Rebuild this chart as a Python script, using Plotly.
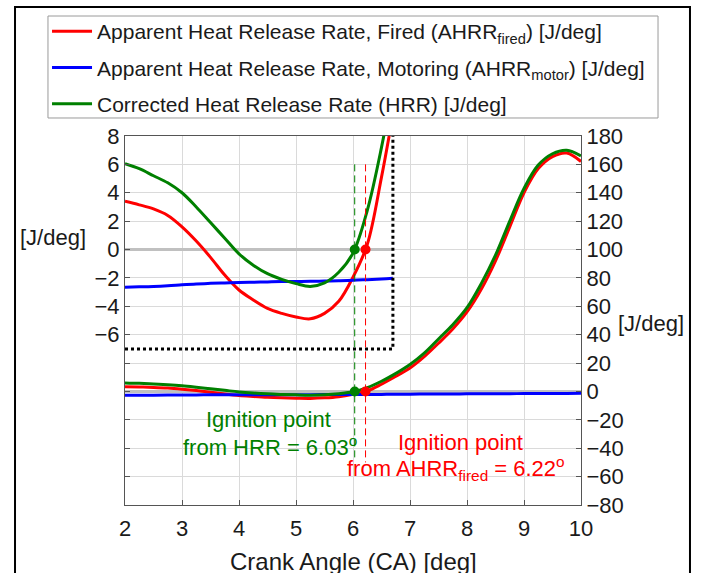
import plotly.graph_objects as go

# ---------------- data ----------------
CA = [2.0, 2.25, 2.5, 2.75, 3.0, 3.25, 3.5, 3.75, 4.0, 4.25, 4.5, 4.75, 5.0, 5.25,
      5.5, 5.75, 6.0, 6.25, 6.5, 6.7, 7.0, 7.25, 7.5, 7.75, 8.0, 8.25, 8.5, 8.75,
      9.0, 9.25, 9.5, 9.75, 10.0]
AHRR_FIRED = [3.4, 3.15, 2.86, 2.4, 1.6, 0.6, -0.55, -1.8, -2.85, -3.55, -4.15, -4.5, -4.75, -4.88,
              -4.5, -3.65, -1.95, 0.35, 5.1, 9.5, 16.5, 24.5, 34, 44, 56, 72, 92, 116,
              140, 157, 165.5, 168, 162]
AHRR_MOTOR = [-2.65, -2.63, -2.6, -2.55, -2.48, -2.42, -2.38, -2.35, -2.32, -2.3, -2.28, -2.26, -2.25, -2.24,
              -2.22, -2.2, -2.17, -2.12, -2.07, -2.02, -1.9, -1.85, -1.8, -1.75, -1.7, -1.65, -1.6, -1.55,
              -1.5, -1.45, -1.4, -1.35, -1.3]
HRR = [6.05, 5.7, 5.2, 4.7, 4.0, 3.0, 1.9, 0.8, -0.3, -1.1, -1.7, -2.1, -2.4, -2.6,
       -2.35, -1.6, -0.25, 2.75, 7.2, 11.5, 19, 27, 37, 47, 59, 76, 96, 120,
       143, 159.5, 167.5, 170, 166]

IGN_HRR = 6.03
IGN_FIRED = 6.22

INSET_X_MAX = 6.7
INSET_Y_MIN = -7
INSET_Y_MAX = 8

LEFT_LABEL_TICKS = list(range(-6, 9, 2))
RIGHT_TICKS = list(range(-80, 181, 20))
X_TICKS = list(range(2, 11))

NAMES = ["Apparent Heat Release Rate, Fired (AHRR<sub>fired</sub>) [J/deg]",
         "Apparent Heat Release Rate, Motoring (AHRR<sub>motor</sub>) [J/deg]",
         "Corrected Heat Release Rate (HRR) [J/deg]"]
X_TITLE = "Crank Angle (CA) [deg]"
Y_TITLE = "[J/deg]"

# ---------------- styles ----------------
RED, BLUE, GREEN = "#ff0000", "#0000ff", "#008000"
FONT = "Liberation Sans, Arial, sans-serif"
GRID = "#dadada"
AXC = "#555555"
ZEROC = "#c0c0c0"

inset = [i for i, c in enumerate(CA) if c <= INSET_X_MAX]
ix = [CA[i] for i in inset]

fig = go.Figure()
line_kw = dict(shape="spline", smoothing=1.0, width=3)

# inset (left axis) zero line, curves, frame, markers
fig.add_trace(go.Scatter(x=[CA[0], INSET_X_MAX], y=[0, 0], yaxis="y", mode="lines",
                         line=dict(color=ZEROC, width=3), showlegend=False, hoverinfo="skip"))
for ys, col in [(AHRR_FIRED, RED), (AHRR_MOTOR, BLUE), (HRR, GREEN)]:
    fig.add_trace(go.Scatter(x=ix, y=[ys[i] for i in inset], yaxis="y", mode="lines",
                             line=dict(color=col, **line_kw), showlegend=False))
fig.add_trace(go.Scatter(x=[CA[0], INSET_X_MAX, INSET_X_MAX], y=[INSET_Y_MIN, INSET_Y_MIN, INSET_Y_MAX],
                         yaxis="y", mode="lines", line=dict(color="black", width=3, dash="dot"),
                         showlegend=False))
for xv, col in [(IGN_HRR, GREEN), (IGN_FIRED, RED)]:
    fig.add_trace(go.Scatter(x=[xv], y=[0], yaxis="y", mode="markers",
                             marker=dict(color=col, size=10), showlegend=False))

# main (right axis) zero line, ignition dashed lines, curves, markers
fig.add_trace(go.Scatter(x=[CA[0], CA[-1]], y=[0, 0], yaxis="y2", mode="lines",
                         line=dict(color=ZEROC, width=3), showlegend=False, hoverinfo="skip"))
for xv, col, ybot in [(IGN_HRR, GREEN, -47), (IGN_FIRED, RED, -50)]:
    fig.add_trace(go.Scatter(x=[xv, xv], y=[160, ybot], yaxis="y2", mode="lines",
                             line=dict(color=col, width=1, dash="7px,4px"), showlegend=False))
for name, ys, col in [(NAMES[0], AHRR_FIRED, RED), (NAMES[1], AHRR_MOTOR, BLUE), (NAMES[2], HRR, GREEN)]:
    fig.add_trace(go.Scatter(x=CA, y=ys, yaxis="y2", mode="lines", name=name,
                             line=dict(color=col, **line_kw), legendgroup=name))
for xv, col in [(IGN_HRR, GREEN), (IGN_FIRED, RED)]:
    fig.add_trace(go.Scatter(x=[xv], y=[0], yaxis="y2", mode="markers",
                             marker=dict(color=col, size=10), showlegend=False))

shapes = [
    # legend box
    dict(type="rect", xref="paper", yref="paper", x0=-0.1689, x1=1.1689, y0=1.0488, y1=1.3252,
         line=dict(color="#9a9a9a", width=1), layer="above"),
    # outer figure frame
    dict(type="rect", xref="paper", yref="paper", x0=-0.2412, x1=1.2390, y0=-0.3, y1=1.3496,
         line=dict(color="black", width=2), layer="above"),
]

annos = [
    dict(text="Ignition point", x=4.51, y=-19.7, xref="x", yref="y2", showarrow=False,
         xanchor="center", font=dict(color=GREEN, size=22)),
    dict(text="from HRR = 6.03<sup>o</sup>", x=4.54, y=-38.5, xref="x", yref="y2", showarrow=False,
         xanchor="center", font=dict(color=GREEN, size=22)),
    dict(text="Ignition point", x=7.89, y=-35.8, xref="x", yref="y2", showarrow=False,
         xanchor="center", font=dict(color=RED, size=22)),
    dict(text="from AHRR<sub>fired</sub> = 6.22<sup>o</sup>", x=7.81, y=-54, xref="x", yref="y2",
         showarrow=False, xanchor="center", font=dict(color=RED, size=22)),
    dict(text=Y_TITLE, x=-0.158, y=0.726, xref="paper", yref="paper", showarrow=False,
         xanchor="center", yanchor="middle", font=dict(size=22)),
    dict(text=Y_TITLE, x=1.1535, y=0.493, xref="paper", yref="paper", showarrow=False,
         xanchor="center", yanchor="middle", font=dict(size=22)),
    dict(text=X_TITLE, x=0.5, y=-0.1518, xref="paper", yref="paper", showarrow=False,
         xanchor="center", yanchor="middle", font=dict(size=24)),
]

fig.update_layout(
    width=704, height=573,
    margin=dict(l=125, r=123, t=136, b=68, autoexpand=False),
    paper_bgcolor="white", plot_bgcolor="white",
    font=dict(family=FONT, size=22, color="#1a1a1a"),
    showlegend=True,
    legend=dict(x=-0.171, y=1.3388, xanchor="left", yanchor="top",
                borderwidth=0, bgcolor="rgba(0,0,0,0)", itemwidth=40,
                font=dict(size=21, color="#1a1a1a"), tracegroupgap=6),
    xaxis=dict(range=[2, 10], tickvals=X_TICKS, showgrid=True, gridcolor=GRID,
               showline=True, mirror=True, linecolor=AXC, ticks="inside", ticklen=5,
               tickcolor=AXC, zeroline=False, ticklabelstandoff=4, automargin=False),
    yaxis=dict(range=[-18, 8], tickvals=LEFT_LABEL_TICKS, showgrid=False,
               showline=True, linecolor=AXC, ticks="inside", ticklen=5, tickcolor=AXC,
               zeroline=False, automargin=False,
               minor=dict(tick0=0, dtick=2, ticks="inside", ticklen=5, tickcolor=AXC, showgrid=False)),
    yaxis2=dict(range=[-80, 180], tickvals=RIGHT_TICKS, overlaying="y", side="right",
                showgrid=True, gridcolor=GRID, showline=True, linecolor=AXC, automargin=False,
                ticks="inside", ticklen=5, tickcolor=AXC, zeroline=False),
    shapes=shapes, annotations=annos,
)

fig.write_html("out.html", config={"displayModeBar": False},
               post_script="document.body.style.margin='0';document.body.style.padding='0';")
